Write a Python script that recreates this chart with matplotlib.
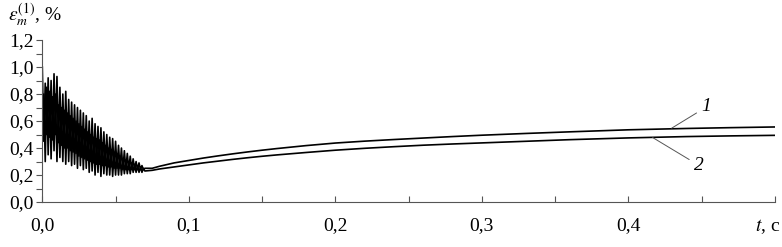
import numpy as np
import matplotlib
matplotlib.use("Agg")
import matplotlib.pyplot as plt
from matplotlib.ticker import MultipleLocator
from matplotlib.transforms import ScaledTranslation

plt.rcParams['font.family'] = ['Liberation Serif', 'DejaVu Serif']
plt.rcParams['mathtext.fontset'] = 'stix'

# oscillating start segment, sampled every 1 ms (0.000 .. 0.070 s)
osc_step = 0.001
curve1_osc = [1.00, 0.45, 0.88, 0.50, 0.92, 0.48, 0.90, 0.46, 0.95, 0.50,
              0.93, 0.44, 0.85, 0.42, 0.80, 0.40, 0.82, 0.40, 0.76, 0.38,
              0.74, 0.37, 0.72, 0.36, 0.70, 0.34, 0.68, 0.33, 0.66, 0.32,
              0.64, 0.31, 0.60, 0.30, 0.62, 0.29, 0.58, 0.28, 0.56, 0.28,
              0.55, 0.27, 0.52, 0.27, 0.50, 0.26, 0.48, 0.26, 0.47, 0.25,
              0.45, 0.25, 0.42, 0.25, 0.40, 0.24, 0.38, 0.24, 0.36, 0.24,
              0.34, 0.24, 0.32, 0.24, 0.30, 0.24, 0.29, 0.24, 0.27, 0.24,
              0.25]
curve2_osc = [0.60, 0.80, 0.30, 0.85, 0.35, 0.82, 0.32, 0.78, 0.38, 0.80,
              0.30, 0.72, 0.33, 0.70, 0.30, 0.68, 0.28, 0.66, 0.30, 0.64,
              0.27, 0.62, 0.28, 0.60, 0.25, 0.58, 0.27, 0.56, 0.24, 0.54,
              0.25, 0.52, 0.22, 0.50, 0.23, 0.48, 0.20, 0.47, 0.22, 0.46,
              0.19, 0.44, 0.21, 0.42, 0.20, 0.40, 0.20, 0.39, 0.19, 0.37,
              0.20, 0.36, 0.20, 0.34, 0.20, 0.32, 0.21, 0.31, 0.21, 0.30,
              0.21, 0.29, 0.22, 0.28, 0.22, 0.27, 0.22, 0.26, 0.22, 0.25,
              0.23]

# smooth segment
t_smooth = [0.075, 0.08, 0.09, 0.10, 0.11, 0.12, 0.13, 0.14, 0.15, 0.16, 0.18,
            0.20, 0.22, 0.24, 0.26, 0.28, 0.30, 0.33, 0.36, 0.40, 0.44, 0.47, 0.50]
curve1_smooth = [0.25, 0.265, 0.29, 0.308, 0.326, 0.342, 0.357, 0.371, 0.384, 0.396, 0.418,
                 0.437, 0.451, 0.463, 0.474, 0.485, 0.495, 0.508, 0.52, 0.535, 0.545, 0.551, 0.556]
curve2_smooth = [0.235, 0.245, 0.26, 0.275, 0.29, 0.303, 0.316, 0.328, 0.339, 0.349, 0.367,
                 0.384, 0.398, 0.41, 0.421, 0.43, 0.438, 0.45, 0.462, 0.475, 0.485, 0.49, 0.494]

x_tick_labels = ['0,0', '0,1', '0,2', '0,3', '0,4', '$t$, c']
y_tick_labels = ['0,0', '0,2', '0,4', '0,6', '0,8', '1,0', '1,2']

t_osc = np.arange(len(curve1_osc)) * osc_step
t1 = np.concatenate([t_osc, t_smooth])
y1 = np.concatenate([curve1_osc, curve1_smooth])
t2 = np.concatenate([t_osc, t_smooth])
y2 = np.concatenate([curve2_osc, curve2_smooth])

fig = plt.figure(figsize=(7.82, 2.47), dpi=100)
ax = fig.add_axes([0.0541, 0.182, 0.991 - 0.0541, 0.838 - 0.182])
ax.plot(t2, y2, color='black', lw=1.2)
ax.plot(t1, y1, color='black', lw=1.2)

ax.set_xlim(0, 0.5)
ax.set_ylim(0, 1.2)
for s in ['top', 'right']:
    ax.spines[s].set_visible(False)
for s in ['left', 'bottom']:
    ax.spines[s].set_color('#555555')
    ax.spines[s].set_linewidth(0.8)

ax.set_xticks(np.arange(6) * 0.1)
ax.set_xticklabels(x_tick_labels)
ax.xaxis.set_minor_locator(MultipleLocator(0.05))
ax.set_yticks(np.arange(7) * 0.2)
ax.set_yticklabels(y_tick_labels)
ax.yaxis.set_minor_locator(MultipleLocator(0.1))
ax.tick_params(axis='x', which='both', direction='in', length=4, width=0.8,
               color='#555555', labelsize=14, pad=11)
ax.tick_params(axis='y', which='both', direction='out', length=4, width=0.8,
               color='#555555', labelsize=14, pad=2)

last = ax.get_xticklabels()[-1]
last.set_horizontalalignment('right')
last.set_transform(last.get_transform() + ScaledTranslation(5 / 100, 0, fig.dpi_scale_trans))

fig.text(0.010, 0.94, r'$\varepsilon_{m}^{(1)}$, %', fontsize=14, ha='left', va='center')

# curve labels with leader lines
ax.annotate('1', xy=(0.4295, 0.547), xytext=(0.4500, 0.705),
            fontsize=14, style='italic', ha='left', va='center',
            arrowprops=dict(arrowstyle='-', color='#555555', lw=0.7,
                            shrinkA=2, shrinkB=0))
ax.annotate('2', xy=(0.4165, 0.478), xytext=(0.4450, 0.27),
            fontsize=14, style='italic', ha='left', va='center',
            arrowprops=dict(arrowstyle='-', color='#555555', lw=0.7,
                            shrinkA=2, shrinkB=0))

fig.savefig('out.png', dpi=100)
